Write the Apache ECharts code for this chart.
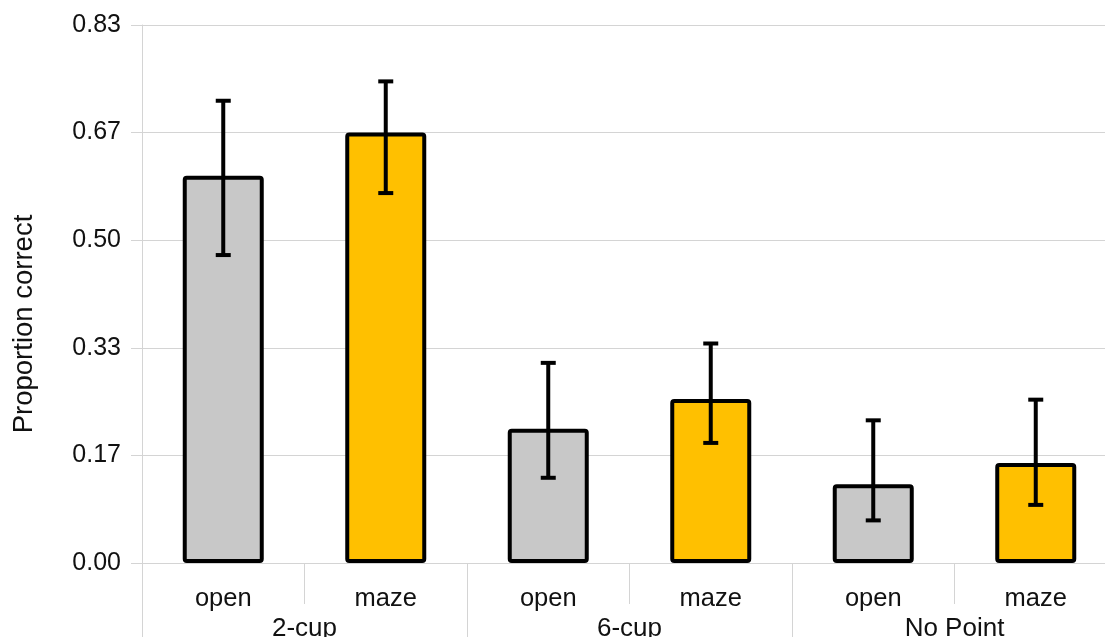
<!DOCTYPE html>
<html>
<head>
<meta charset="utf-8">
<script src="https://cdn.jsdelivr.net/npm/echarts@6/dist/echarts.min.js"></script>
<style>
  html, body { margin: 0; padding: 0; background: #ffffff; overflow: hidden; }
  #chart { width: 1105px; height: 637px; }
</style>
</head>
<body>
<div id="chart"></div>
<script>
// Conditions within each task group
const conditions = ['open', 'maze', 'open', 'maze', 'open', 'maze'];
const groups = ['2-cup', '6-cup', 'No Point'];
// Mean proportion correct per condition
const proportions = [0.600, 0.667, 0.208, 0.254, 0.122, 0.155];
// Lower and upper error-bar limits
const lowerLimits = [0.477, 0.573, 0.132, 0.186, 0.066, 0.090];
const upperLimits = [0.716, 0.746, 0.310, 0.340, 0.221, 0.253];
// Y-axis ticks in sixths
const yTicks = [0, 1 / 6, 2 / 6, 3 / 6, 4 / 6, 5 / 6];
const yTickLabels = ['0.00', '0.17', '0.33', '0.50', '0.67', '0.83'];

const fillColors = ['#c8c8c8', '#ffc000'];
const gridColor = '#d4d4d4';
const font = 'Liberation Sans, Arial, sans-serif';

const barData = proportions.map((v, i) => ({
  value: v,
  itemStyle: { color: fillColors[i % 2] }
}));
const errorData = proportions.map((v, i) => [i, lowerLimits[i], upperLimits[i]]);

const chart = echarts.init(document.getElementById('chart'));
chart.setOption({
  animation: false,
  backgroundColor: '#ffffff',
  // plot area runs slightly past the right edge of the canvas
  grid: {
    left: 142, top: 25, bottom: 74, right: -12,
    containLabel: false, outerBoundsMode: 'none'
  },
  graphic: [{
    type: 'text',
    x: 24,
    y: 324,
    rotation: Math.PI / 2,
    style: {
      text: 'Proportion correct',
      font: '27.5px ' + font,
      fill: '#111111',
      align: 'center',
      verticalAlign: 'middle'
    }
  }],
  xAxis: [{
    type: 'category',
    data: conditions,
    position: 'bottom',
    axisLine: { show: true, lineStyle: { color: gridColor, width: 1 } },
    axisTick: { show: true, length: 41, lineStyle: { color: gridColor, width: 1 } },
    axisLabel: { color: '#111111', fontSize: 25.5, fontFamily: font, margin: 23 },
    splitLine: { show: false }
  }, {
    type: 'category',
    data: groups,
    position: 'bottom',
    axisLine: { show: false },
    axisTick: { show: true, length: 80, lineStyle: { color: gridColor, width: 1 } },
    axisLabel: { color: '#111111', fontSize: 26, fontFamily: font, margin: 53 },
    splitLine: { show: false }
  }],
  yAxis: {
    type: 'value',
    min: 0,
    max: 5 / 6,
    interval: 1 / 6,
    axisLine: { show: true, lineStyle: { color: gridColor, width: 1 } },
    axisTick: { show: true, length: 11, lineStyle: { color: gridColor, width: 1 } },
    axisLabel: {
      color: '#111111', fontSize: 25, fontFamily: font, margin: 21,
      formatter: function (v) {
        const idx = yTicks.findIndex(t => Math.abs(t - v) < 1e-6);
        return idx >= 0 ? yTickLabels[idx] : '';
      }
    },
    splitLine: { show: true, lineStyle: { color: gridColor, width: 1 } }
  },
  series: [{
    type: 'bar',
    xAxisIndex: 0,
    data: barData,
    barWidth: 81,
    itemStyle: { borderColor: '#000000', borderWidth: 4, borderRadius: 2 }
  }, {
    type: 'custom',
    xAxisIndex: 0,
    data: errorData,
    encode: { x: 0, y: [1, 2] },
    z: 10,
    renderItem: function (params, api) {
      const x = api.value(0);
      const lo = api.coord([x, api.value(1)]);
      const hi = api.coord([x, api.value(2)]);
      const cap = 7.5;
      const style = { stroke: '#000000', lineWidth: 4 };
      return {
        type: 'group',
        children: [
          { type: 'line', shape: { x1: hi[0], y1: hi[1], x2: lo[0], y2: lo[1] }, style: style },
          { type: 'line', shape: { x1: hi[0] - cap, y1: hi[1], x2: hi[0] + cap, y2: hi[1] }, style: style },
          { type: 'line', shape: { x1: lo[0] - cap, y1: lo[1], x2: lo[0] + cap, y2: lo[1] }, style: style }
        ]
      };
    }
  }]
});
</script>
</body>
</html>
